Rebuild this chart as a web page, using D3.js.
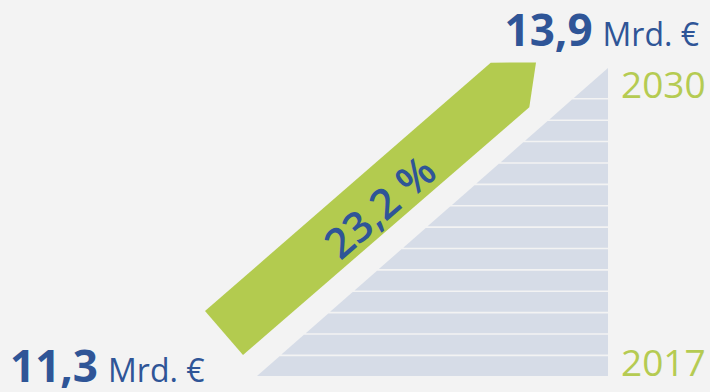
<!DOCTYPE html>
<html><head><meta charset="utf-8">
<script src="https://cdn.jsdelivr.net/npm/d3@7"></script>
<style>
html,body{margin:0;padding:0;background:#f3f3f3;}
svg{display:block;font-family:"Open Sans",sans-serif;}
</style></head>
<body>
<svg id="chart" width="710" height="392"></svg>
<script>
const years = [2017,2018,2019,2020,2021,2022,2023,2024,2025,2026,2027,2028,2029,2030];
const yearLabels = ["2017","2030"];
const startValue = 11.3;
const endValue = 13.9;
const growthPct = 23.2;
const unit = "Mrd. €";

const svg = d3.select("#chart");
const W = 710, H = 392;
svg.append("rect").attr("width",W).attr("height",H).attr("fill","#f3f3f3");

const fmt = v => d3.format(".1f")(v).replace(".", ",");

const apexY = 68;
const y = d3.scaleLinear().domain([2017, 2030]).range([376, 98]);
const xDiag = d3.scaleLinear().domain([376, apexY]).range([257, 608]);
const right = 608;
const gap = 1.6;

const bars = years.map((yr, i) => {
  const yb = y(yr);
  const yt = i === years.length - 1 ? apexY : y(years[i+1]) + gap;
  return {yr, yb, yt};
});
svg.append("g").selectAll("path").data(bars).join("path")
  .attr("d", d => `M${xDiag(d.yb)},${d.yb}L${right},${d.yb}L${right},${d.yt}L${xDiag(d.yt)},${d.yt}Z`)
  .attr("fill", "#d6dce7");

// year labels
svg.append("g").selectAll("text").data(yearLabels).join("text")
  .attr("x", 621)
  .attr("y", d => y(+d))
  .attr("fill", "#b5cb52")
  .attr("font-size", 37)
  .text(d => d);

// green arrow
const arrow = [[205,311],[490.7,62.7],[536,62.5],[529.3,107.3],[243,355]];
svg.append("path")
  .attr("d", d3.line()(arrow) + "Z")
  .attr("fill", "#b3cb4f");

const ang = Math.atan2(62.7-311, 490.7-205) * 180 / Math.PI;
svg.append("text")
  .attr("transform", `translate(380,207) rotate(${ang})`)
  .attr("text-anchor", "middle")
  .attr("dy", "0.36em")
  .attr("fill", "#2f5597")
  .attr("font-size", 42)
  .attr("font-weight", 600)
  .text(fmt(growthPct) + " %");

// value labels
const v1 = svg.append("text").attr("x", 10).attr("y", 382).attr("fill", "#2f5597");
v1.append("tspan").attr("font-size", 44).attr("font-weight", 700).text(fmt(startValue));
v1.append("tspan").attr("font-size", 32).attr("dx", 10).text(unit);

const v2 = svg.append("text").attr("x", 699).attr("y", 46).attr("text-anchor", "end").attr("fill", "#2f5597");
v2.append("tspan").attr("font-size", 44).attr("font-weight", 700).text(fmt(endValue));
v2.append("tspan").attr("font-size", 32).attr("dx", 10).text(unit);
</script>
</body></html>
